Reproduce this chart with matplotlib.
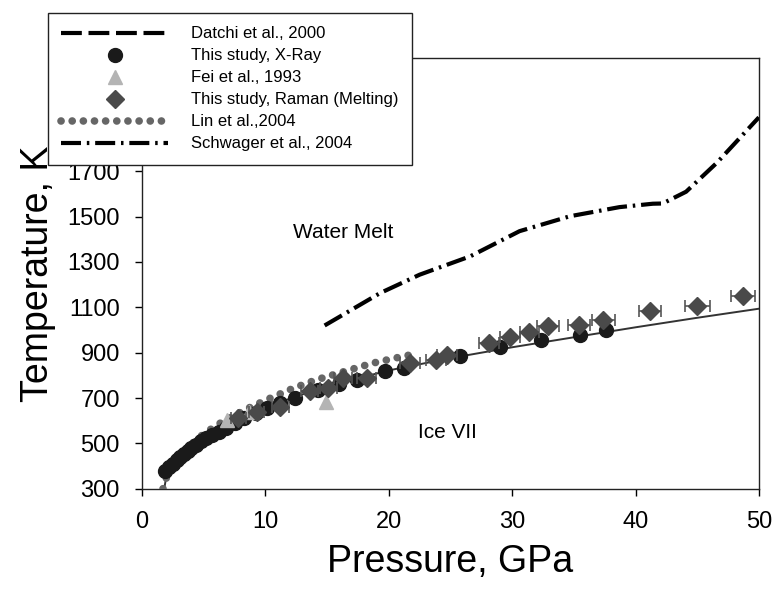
import numpy as np
import matplotlib
matplotlib.use("Agg")
import matplotlib.pyplot as plt

plt.rcParams['font.family'] = ['Liberation Sans', 'DejaVu Sans']

# ---- data ----
# Datchi et al., 2000 (dashed, mostly hidden under the data points)
datchi_p = [2.0, 3.0, 4.0, 5.0, 6.0, 7.0, 8.0, 9.0, 10.0]
datchi_t = [360, 430, 480, 520, 555, 585, 610, 635, 655]

# This study, X-ray (black circles)
xray_p = [1.9, 2.2, 2.5, 2.8, 3.1, 3.4, 3.7, 4.0, 4.4, 4.8, 5.2, 5.7, 6.2, 6.8,
          7.5, 8.3, 9.2, 10.1, 11.2, 12.4, 14.3, 16.0, 17.4, 19.7, 21.2, 25.8,
          29.0, 32.3, 35.5, 37.6]
xray_t = [380, 395, 410, 425, 440, 455, 468, 480, 495, 510, 522, 537, 552, 568,
          588, 610, 632, 655, 680, 699, 735, 760, 780, 818, 832, 886,
          925, 957, 979, 1001]

# Fei et al., 1993 (light grey triangles)
fei_p = [6.9, 8.7, 14.9]
fei_t = [603, 640, 684]

# This study, Raman (melting) with pressure error bars
raman_p = [7.8, 9.3, 11.2, 13.6, 15.1, 16.3, 18.2, 21.7, 23.8, 24.7,
           28.1, 29.8, 31.4, 32.9, 35.4, 37.4, 41.2, 45.0, 48.7]
raman_t = [611, 640, 662, 729, 745, 788, 788, 854, 869, 891,
           942, 969, 991, 1016, 1023, 1045, 1085, 1104, 1151]
raman_err = [0.6, 0.6, 0.7, 0.7, 0.7, 0.7, 0.8, 0.8, 0.8, 0.8,
             0.8, 0.8, 0.8, 0.9, 0.9, 0.9, 0.9, 1.0, 1.0]

# Lin et al., 2004 (dotted)
lin_p = [1.7, 2.0, 2.5, 3.1, 4.0, 5.0, 6.5, 8.6, 10.5, 12.3, 14.1, 16.9, 18.7, 20.5, 22.4]
lin_t = [300, 353, 397, 446, 497, 542, 595, 655, 702, 744, 780, 825, 854, 876, 898]

# Schwager et al., 2004 (dash-dot)
schw_p = [14.8, 19.3, 22.5, 26.6, 30.6, 34.7, 38.7, 41.4, 42.2, 44.1, 46.6, 50.0]
schw_t = [1020, 1163, 1244, 1325, 1436, 1502, 1542, 1557, 1558, 1610, 1738, 1938]

# fitted melting curve (solid)
fit_p = [1.8, 2.0, 2.5, 3.0, 4.0, 5.0, 6.0, 8.0, 10.0, 12.0, 15.0, 20.0, 25.0,
         30.0, 35.0, 40.0, 45.0, 50.0]
fit_t = [300, 365, 405, 435, 482, 518, 550, 608, 656, 698, 752, 822, 876,
         924, 968, 1012, 1054, 1094]

fig = plt.figure(figsize=(7.74, 5.91), dpi=100)
ax = fig.add_axes([0.1835, 0.173, 0.797, 0.729])

ax.plot(datchi_p, datchi_t, color='black', lw=3, ls=(0, (5, 1.6)),
        label='Datchi et al., 2000', zorder=2)
ax.plot(fit_p, fit_t, color='#333333', lw=1.4, zorder=2)
ax.plot(lin_p, lin_t, color='#666666', lw=5.5, ls=(0, (0.01, 1.45)),
        dash_capstyle='round', label='Lin et al.,2004', zorder=3)
ax.plot(xray_p, xray_t, 'o', color='#1a1a1a', ms=10, mec='#1a1a1a',
        label='This study, X-Ray', zorder=4)
ax.plot(fei_p, fei_t, '^', color='#b4b4b4', ms=10, mec='#b4b4b4',
        label='Fei et al., 1993', zorder=4)
ax.errorbar(raman_p, raman_t, xerr=raman_err, fmt='none', ecolor='#555555',
            elinewidth=1.2, capsize=4, capthick=1.2, zorder=4)
ax.plot(raman_p, raman_t, 'D', color='#4a4a4a', ms=9, mec='#4a4a4a',
        label='This study, Raman (Melting)', zorder=5)
ax.plot(schw_p, schw_t, color='black', lw=3, ls=(0, (4.8, 1.4, 0.6, 1.4)),
        label='Schwager et al., 2004', zorder=3)

ax.text(12.2, 1430, 'Water Melt', fontsize=15, va='center', ha='left')
ax.text(22.4, 550, 'Ice VII', fontsize=15, va='center', ha='left')

ax.set_xlim(0, 50)
ax.set_ylim(300, 2200)
ax.set_xticks([0, 10, 20, 30, 40, 50])
ax.set_yticks(np.arange(300, 2200, 200))
ax.tick_params(direction='out', length=5, width=1, labelsize=17, pad=11)
for s in ax.spines.values():
    s.set_color('#222222')
    s.set_linewidth(1)

ax.set_xlabel('Pressure, GPa', fontsize=27, labelpad=8)
ax.set_ylabel('Temperature, K', fontsize=27, labelpad=8)

h, l = ax.get_legend_handles_labels()
order = ['Datchi et al., 2000', 'This study, X-Ray', 'Fei et al., 1993',
         'This study, Raman (Melting)', 'Lin et al.,2004', 'Schwager et al., 2004']
hs = [h[l.index(o)] for o in order]
leg = fig.legend(hs, order, loc='upper left', bbox_to_anchor=(0.062, 0.978),
                 fontsize=12, frameon=True, fancybox=False, handlelength=6.4,
                 handletextpad=1.4, labelspacing=0.42, borderpad=0.8,
                 borderaxespad=0)
leg.get_frame().set_edgecolor('#222222')
leg.get_frame().set_linewidth(1)
leg.get_frame().set_alpha(1)

fig.savefig('out.png', dpi=100)
